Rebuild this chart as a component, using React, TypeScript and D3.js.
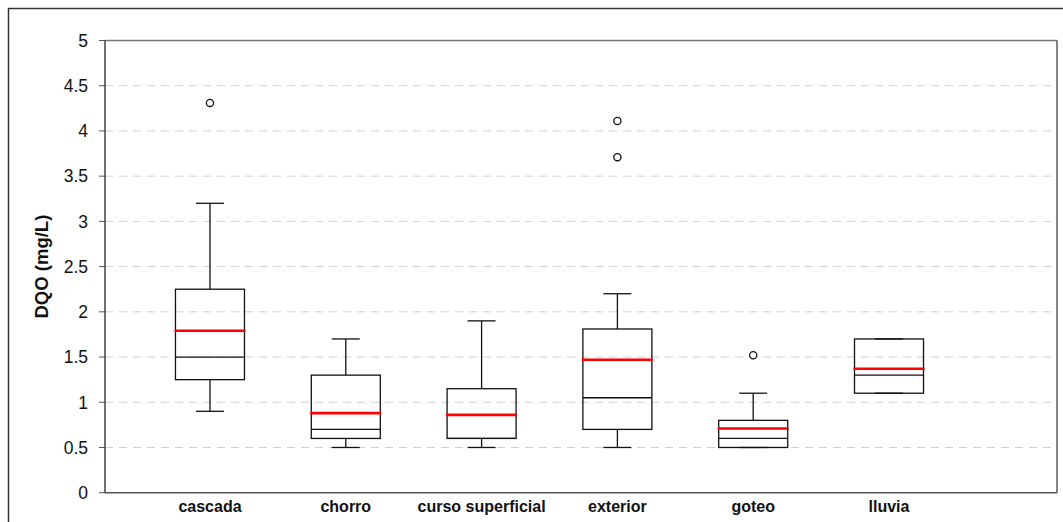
import React from "react";
import * as d3 from "d3";

const categories = ["cascada", "chorro", "curso superficial", "exterior", "goteo", "lluvia"];
const whiskerLow = [0.9, 0.5, 0.5, 0.5, 0.5, 1.1];
const q1 = [1.25, 0.6, 0.6, 0.7, 0.5, 1.1];
const medians = [1.5, 0.7, 0.6, 1.05, 0.6, 1.3];
const means = [1.79, 0.88, 0.86, 1.47, 0.71, 1.37];
const q3 = [2.25, 1.3, 1.15, 1.81, 0.8, 1.7];
const whiskerHigh = [3.2, 1.7, 1.9, 2.2, 1.1, 1.7];
const outliers: number[][] = [[4.31], [], [], [4.11, 3.71], [1.52], []];
const yTicks = [0, 0.5, 1, 1.5, 2, 2.5, 3, 3.5, 4, 4.5, 5];
const yTickLabels = ["0", "0.5", "1", "1.5", "2", "2.5", "3", "3.5", "4", "4.5", "5"];

const W = 1063;
const H = 522;
const left = 105;
const right = 1057;
const top = 40.5;
const bottom = 492.7;

export default function App() {
  const x = d3.scaleLinear().domain([0.227, 7.237]).range([left, right]);
  const y = d3.scaleLinear().domain([0, 5]).range([bottom, top]);
  const boxW = 69;
  const capW = 28;
  const font = "'Liberation Sans', Arial, sans-serif";

  return (
    <svg
      width={W}
      height={H}
      style={{ position: "absolute", left: 0, top: 0, background: "#fff" }}
      fontFamily={font}
    >
      <rect x={0} y={0} width={W} height={H} fill="#fff" />
      {/* outer border */}
      <path d={`M8.5,${H + 5} V8.5 H${W + 5}`} fill="none" stroke="#333" strokeWidth={1.5} />
      {/* gridlines */}
      {yTicks.slice(1, -1).map((t) => (
        <line
          key={"g" + t}
          x1={left}
          x2={right}
          y1={y(t)}
          y2={y(t)}
          stroke="#d0d0d0"
          strokeWidth={1}
          strokeDasharray="8,6"
        />
      ))}
      {/* plot frame */}
      <line x1={left} x2={right} y1={top} y2={top} stroke="#777" strokeWidth={1.5} />
      <line x1={right} x2={right} y1={top} y2={bottom} stroke="#333" strokeWidth={1.2} />
      <line x1={left} x2={right} y1={bottom} y2={bottom} stroke="#555" strokeWidth={1.5} />
      <line x1={left} x2={left} y1={top} y2={bottom} stroke="#111" strokeWidth={1.2} />
      {/* y ticks */}
      {yTicks.map((t, i) => (
        <g key={"t" + t}>
          <line x1={left - 6} x2={left} y1={y(t)} y2={y(t)} stroke="#555" strokeWidth={1} />
          <text x={88} y={y(t)} dy="0.36em" textAnchor="end" fontSize={17.5} fill="#111">
            {yTickLabels[i]}
          </text>
        </g>
      ))}
      {/* y title */}
      <text
        transform={`translate(42,${(top + bottom) / 2}) rotate(-90)`}
        textAnchor="middle"
        dy="0.35em"
        fontSize={18.5}
        fontWeight="bold"
        fill="#111"
      >
        DQO (mg/L)
      </text>
      {/* boxes */}
      {categories.map((c, i) => {
        const cx = x(i + 1);
        return (
          <g key={c}>
            <line x1={cx} x2={cx} y1={y(q3[i])} y2={y(whiskerHigh[i])} stroke="#111" strokeWidth={1.3} />
            <line x1={cx} x2={cx} y1={y(q1[i])} y2={y(whiskerLow[i])} stroke="#111" strokeWidth={1.3} />
            <line x1={cx - capW / 2} x2={cx + capW / 2} y1={y(whiskerHigh[i])} y2={y(whiskerHigh[i])} stroke="#111" strokeWidth={1.3} />
            <line x1={cx - capW / 2} x2={cx + capW / 2} y1={y(whiskerLow[i])} y2={y(whiskerLow[i])} stroke="#111" strokeWidth={1.3} />
            <rect
              x={cx - boxW / 2}
              y={y(q3[i])}
              width={boxW}
              height={y(q1[i]) - y(q3[i])}
              fill="none"
              stroke="#111"
              strokeWidth={1.3}
            />
            <line x1={cx - boxW / 2} x2={cx + boxW / 2} y1={y(medians[i])} y2={y(medians[i])} stroke="#111" strokeWidth={1.3} />
            <line x1={cx - boxW / 2 - 1} x2={cx + boxW / 2 + 1} y1={y(means[i])} y2={y(means[i])} stroke="#ff0000" strokeWidth={2.6} />
            {outliers[i].map((o, j) => (
              <circle key={j} cx={cx} cy={y(o)} r={3.6} fill="#fff" stroke="#111" strokeWidth={1.3} />
            ))}
            <text x={cx} y={512} textAnchor="middle" fontSize={16} fontWeight="bold" fill="#111">
              {c}
            </text>
          </g>
        );
      })}
    </svg>
  );
}
